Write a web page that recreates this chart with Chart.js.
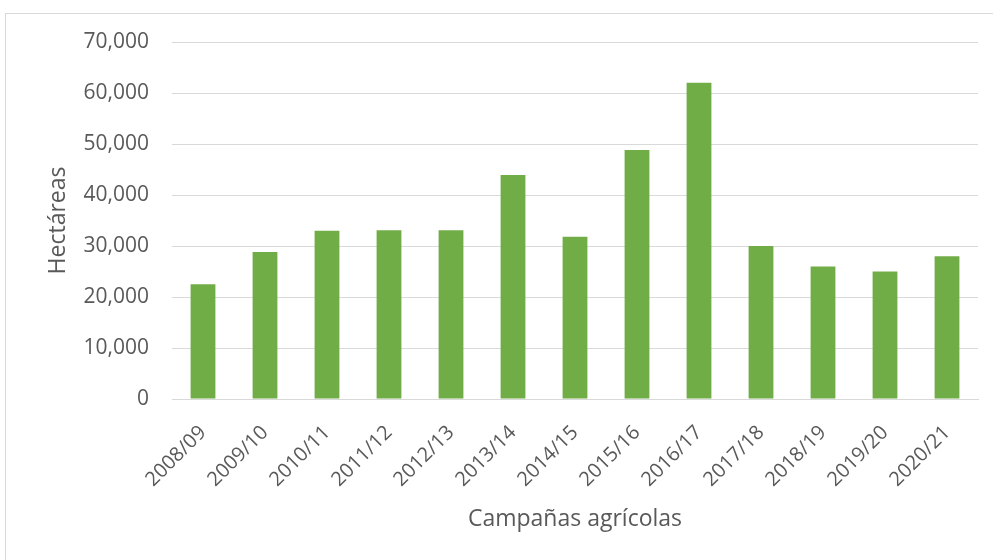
<!DOCTYPE html>
<html>
<head>
<meta charset="utf-8">
<script src="https://cdn.jsdelivr.net/npm/chart.js@4.4.1/dist/chart.umd.min.js"></script>
<style>
  html, body { margin: 0; padding: 0; background: #ffffff; overflow: hidden; }
  #frame { position: absolute; left: 5px; top: 13px; width: 1100px; height: 700px; border: 1px solid #d9d9d9; box-sizing: border-box; }
  #wrap { position: absolute; left: 0; top: 0; width: 993px; height: 560px; }
</style>
</head>
<body>
<div id="frame"></div>
<div id="wrap"><canvas id="c" width="993" height="560"></canvas></div>
<script>
const categories = ['2008/09','2009/10','2010/11','2011/12','2012/13','2013/14','2014/15','2015/16','2016/17','2017/18','2018/19','2019/20','2020/21'];
const hectareas = [22500, 28800, 33000, 33100, 33100, 43900, 31800, 48800, 62000, 30000, 26000, 25000, 28000];
const yTicks = [0, 10000, 20000, 30000, 40000, 50000, 60000, 70000];
const xTitle = 'Campañas agrícolas';
const yTitle = 'Hectáreas';

const txt = '#595959';
const grid = '#d9d9d9';
const fam = '"Open Sans", sans-serif';

new Chart(document.getElementById('c'), {
  type: 'bar',
  data: {
    labels: categories,
    datasets: [{
      label: yTitle,
      data: hectareas,
      backgroundColor: '#70AD47',
      borderWidth: 0,
      categoryPercentage: 1.0,
      barPercentage: 0.4
    }]
  },
  options: {
    responsive: false,
    animation: false,
    layout: { padding: { left: 38, top: 42, right: 15, bottom: 27 } },
    plugins: { legend: { display: false }, tooltip: { enabled: false } },
    scales: {
      x: {
        grid: { display: false, drawTicks: false },
        border: { display: true, color: grid, width: 1 },
        ticks: { color: txt, font: { family: fam, size: 20 }, minRotation: 45, maxRotation: 45, padding: 22 },
        title: { display: true, text: xTitle, color: txt, font: { family: fam, size: 23 }, padding: { top: 0, bottom: 0 } },
        afterFit: s => { s.height = 560 - 27 - 399; }
      },
      y: {
        min: 0, max: 70000,
        afterBuildTicks: s => { s.ticks = yTicks.map(v => ({ value: v })); },
        grid: { color: grid, lineWidth: 1, drawTicks: false },
        border: { display: false },
        ticks: { color: txt, font: { family: fam, size: 21 }, padding: 23,
                 callback: v => v.toLocaleString('en-US') },
        title: { display: true, text: yTitle, color: txt, font: { family: fam, size: 23 }, padding: { top: 7, bottom: 0 } },
        afterFit: s => { s.width = 172 - 38; }
      }
    }
  }
});
</script>
</body>
</html>
